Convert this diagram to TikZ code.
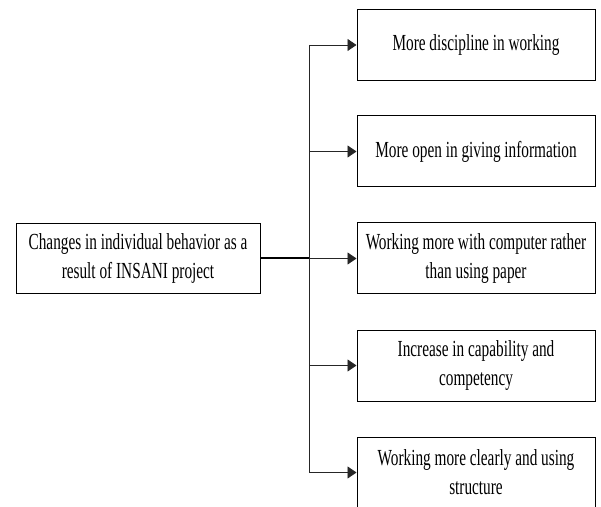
\documentclass[tikz,border=0pt]{standalone}
\usepackage{fontspec}
\setmainfont{Liberation Serif}[FakeStretch=0.665]
\usetikzlibrary{arrows.meta}
\begin{document}
\begin{tikzpicture}[x=1pt,y=1pt,
  box/.style={draw=black,line width=1pt,fill=white,align=center,inner sep=0pt,
    font=\fontsize{23}{29}\selectfont},
  lbox/.style={box,minimum width=244pt,minimum height=70pt},
  rbox/.style={box,minimum width=238pt,minimum height=71pt},
  conn/.style={line width=0.9pt,draw=black!85},
  arr/.style={conn,-{Triangle[length=9pt,width=12pt]}},
  thick line/.style={line width=2pt,draw=black}]
\clip (0,0) rectangle (601,506);
\useasboundingbox (0,0) rectangle (601,506);
\fill[white] (0,0) rectangle (601,506);
\node[lbox] (src) at (138,247.5) {Changes in individual behavior as a\\result of INSANI project};
\node[rbox] (r1) at (476,461) {More discipline in working};
\node[rbox] (r2) at (476,354.5) {More open in giving information};
\node[rbox] (r3) at (476,247.5) {Working more with computer rather\\than using paper};
\node[rbox] (r4) at (476,140.5) {Increase in capability and\\competency};
\node[rbox] (r5) at (476,33.5) {Working more clearly and using\\structure};
\coordinate (j) at (309,247.5);
\coordinate (t) at (309,461);
\coordinate (b) at (309,33.5);
\draw[conn] (t) -- (b);
\draw[thick line] (src.east) -- (j);
\draw[arr] (t) -- (r1.west);
\draw[arr] (j |- r2.west) -- (r2.west);
\draw[arr] (j) -- (r3.west);
\draw[arr] (j |- r4.west) -- (r4.west);
\draw[arr] (b) -- (r5.west);
\end{tikzpicture}
\end{document}
